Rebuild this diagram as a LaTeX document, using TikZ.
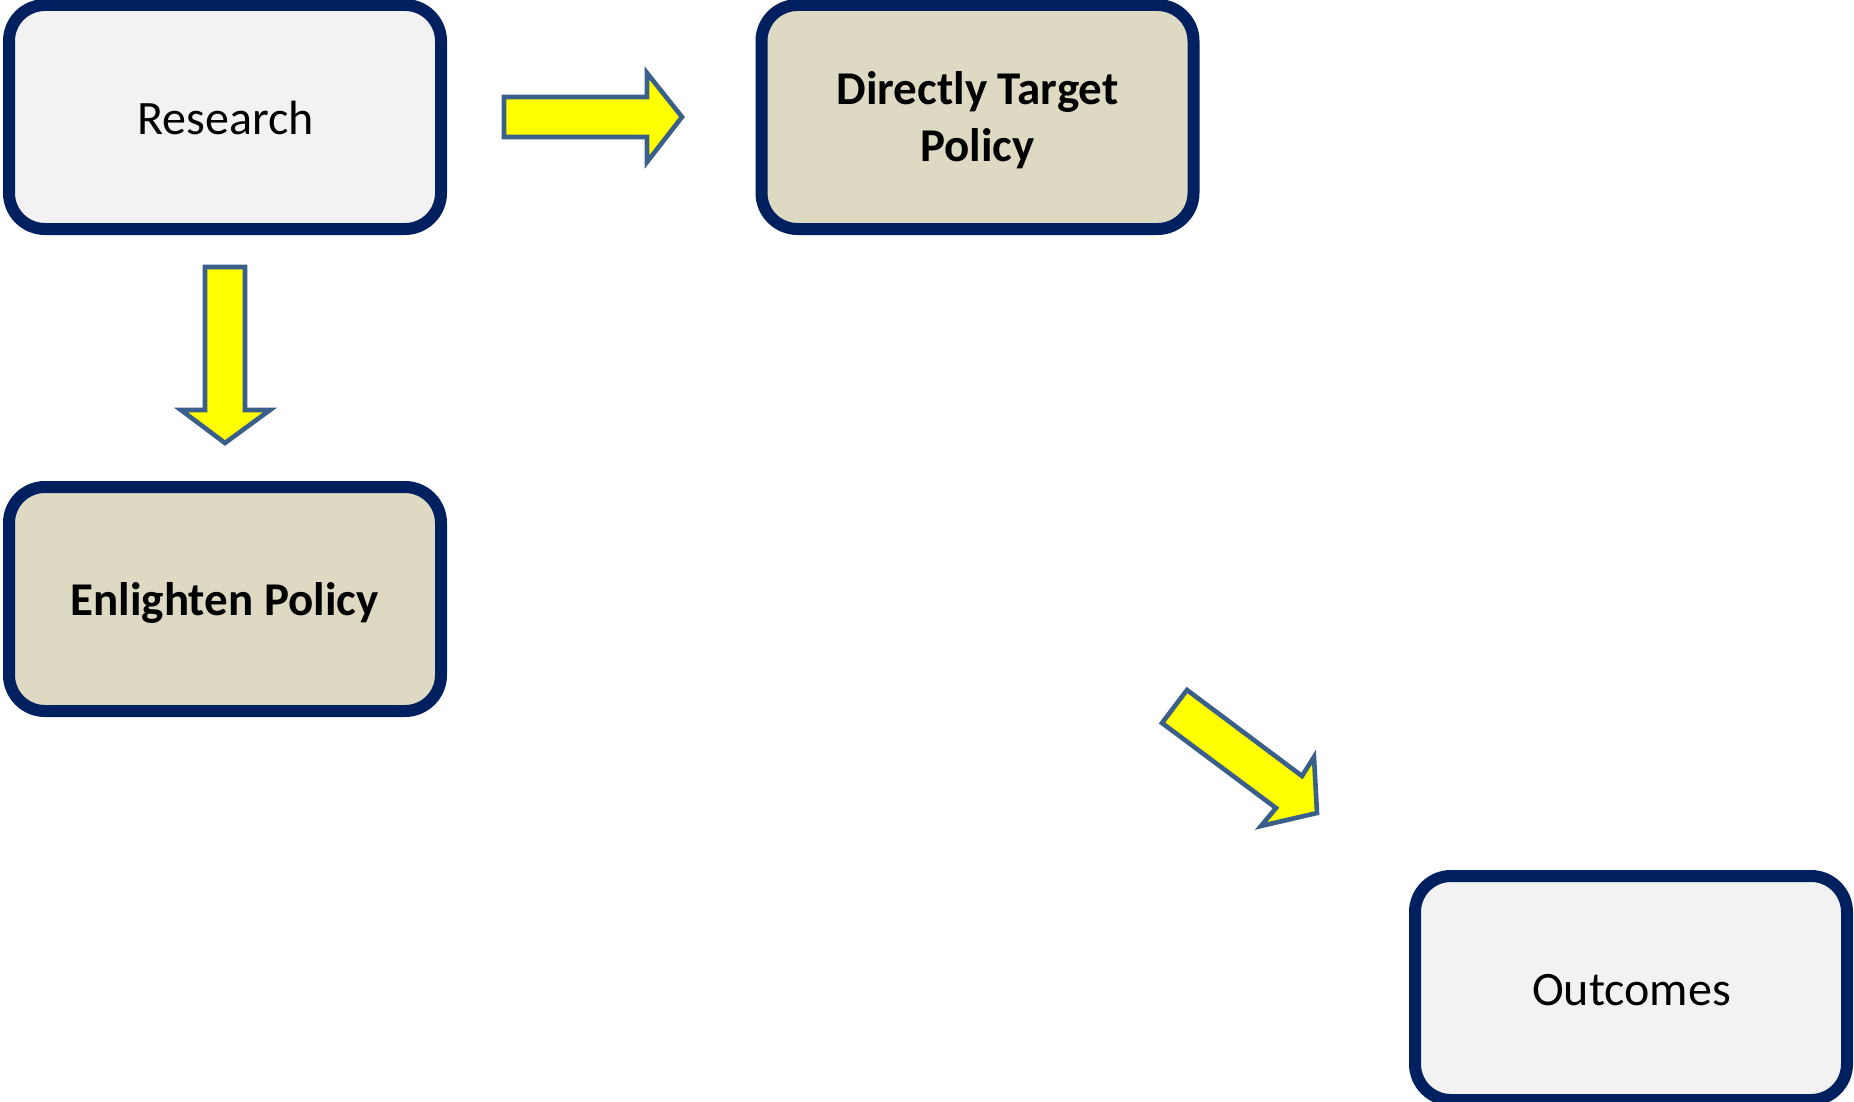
\documentclass[tikz,border=0pt]{standalone}
\usepackage{fontspec}
\setmainfont{Carlito}
\definecolor{navy}{HTML}{002060}
\definecolor{lightfill}{HTML}{F2F2F2}
\definecolor{tanfill}{HTML}{DDD9C3}
\definecolor{arrowedge}{HTML}{3A5F8B}
\definecolor{arrowfill}{HTML}{FFFF00}
\begin{document}
\begin{tikzpicture}[x=0.5pt,y=-0.5pt,
  box/.style={draw=navy, line width=6pt, rounded corners=18pt,
    minimum width=216pt, minimum height=112pt, inner sep=0pt},
  lightbox/.style={box, fill=lightfill},
  tanbox/.style={box, fill=tanfill},
  plaintxt/.style={anchor=base, inner sep=0pt, font=\fontsize{24}{29}\selectfont},
  boldtxt/.style={anchor=base, inner sep=0pt, font=\bfseries\fontsize{23.5}{29}\selectfont},
  blockarrow/.style={fill=arrowfill, draw=arrowedge, line width=2.3pt, line join=miter}]
\useasboundingbox (0,0) rectangle (1854,1102);
\fill[white] (0,0) rectangle (1854,1102);
% boxes
\node[lightbox] (research) at (225,117) {};
\node[tanbox] (direct) at (977.5,117) {};
\node[tanbox] (enlighten) at (225,599) {};
\node[lightbox] (outcomes) at (1631,988) {};
% texts
\node[plaintxt] (researchtxt) at (225.5,134.5) {Research};
\node[boldtxt] (directtxta) at (977.5,104.5) {Directly Target};
\node[boldtxt] (directtxtb) at (977.5,162) {Policy};
\node[boldtxt] (enlightentxt) at (224.5,615.5) {Enlighten Policy};
\node[plaintxt] (outcomestxt) at (1631.5,1005.5) {Outcomes};
% right arrow
\draw[blockarrow] (504,97) -- (647,97) -- (647,73) -- (682,117) -- (647,162) -- (647,137) -- (504,137) -- cycle;
% down arrow
\draw[blockarrow] (205,267) -- (245,267) -- (245,410) -- (270,410) -- (225,443) -- (181,410) -- (205,410) -- cycle;
% diagonal arrow
\draw[blockarrow] (1187,690) -- (1302,776) -- (1314,757) -- (1317,813) -- (1261,826) -- (1276,808) -- (1162,723) -- cycle;
\end{tikzpicture}
\end{document}
